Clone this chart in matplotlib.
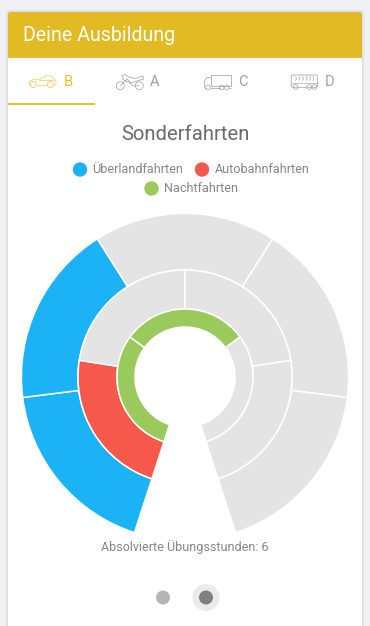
import matplotlib
matplotlib.use("Agg")
import matplotlib.pyplot as plt
from matplotlib.patches import Rectangle, FancyBboxPatch, Circle

W, H = 370, 626
plt.rcParams['font.family'] = ['Roboto', 'DejaVu Sans']

# --- data ---
title = "Sonderfahrten"
header = "Deine Ausbildung"
footer = "Absolvierte Übungsstunden: 6"
tabs = ["B", "A", "C", "D"]
legend_labels = ["Überlandfahrten", "Autobahnfahrten", "Nachtfahrten"]
ring_segments = [5, 4, 3]
ring_done = [2, 1, 2]
ring_colors = ["#1CB2F6", "#F6584C", "#9ACA5C"]
GREY = "#E4E4E4"
GAP_DEG = 36
SWEEP = 360 - GAP_DEG
CENTER_PX = (185, 377)
RADII = [(163.6, 107), (107, 68), (68, 50)]

def Y(y):
    return H - y

fig = plt.figure(figsize=(W / 100, H / 100), dpi=100, facecolor="#F0F1F5")
ax = fig.add_axes([0, 0, 1, 1])
ax.set_axis_off()

# card shadow + card
for i, a in zip((3, 2, 1), (0.015, 0.025, 0.04)):
    ax.add_patch(FancyBboxPatch((8 - i, -20), 354 + 2 * i, H - 12 + 20 + i,
                                boxstyle="round,pad=0,rounding_size=4", fc="#000000", alpha=a, ec="none", zorder=1))
ax.add_patch(Rectangle((8, 0), 354, H - 20, fc="white", ec="none", zorder=2))
ax.add_patch(FancyBboxPatch((8, Y(58)), 354, 46, boxstyle="round,pad=0,rounding_size=3",
                            fc="#E2BA24", ec="none", zorder=3))
ax.add_patch(Rectangle((8, Y(58)), 354, 10, fc="#E2BA24", ec="none", zorder=3))
ax.text(23, Y(35.5), header, color="white", fontsize=14.1, va="center", ha="left", zorder=4)

# tabs
ax.add_patch(Rectangle((8, Y(105)), 87, 2, fc="#E8C02E", ec="none", zorder=4))
tab_x = [68.5, 155, 242.5, 330]
tab_cols = ["#E8C02E", "#A0A0A0", "#A0A0A0", "#A0A0A0"]
for x, t, c in zip(tab_x, tabs, tab_cols):
    ax.text(x, Y(82), t, color=c, fontsize=10.6, ha="center", va="center", zorder=4)

def line(xs, ys, c, lw=0.55):
    ax.plot(xs, [Y(v) for v in ys], color=c, lw=lw, zorder=4, solid_capstyle="round", solid_joinstyle="round")

def wheel(x, y, r, c, lw=0.55):
    ax.add_patch(Circle((x, Y(y)), r, fc="none", ec=c, lw=lw, zorder=4))

# car
c = "#EFCF66"
line([30.3, 29, 29.5, 34, 40, 45, 51, 54.5, 56, 56, 53.5],
     [85, 84, 81, 79.5, 79, 76, 76, 79.5, 81, 84.5, 85], c)
line([36.5, 47], [85, 85], c)
line([39, 54], [79.5, 79.5], c)
wheel(33.3, 84.5, 3, c); wheel(50.3, 84.5, 3, c)
# motorcycle
c = "#A6A6A6"
wheel(120.3, 85.7, 4, c); wheel(139.3, 85.7, 4, c)
line([120.3, 127, 133, 139.3], [85.7, 79, 86, 85.7], c)
line([123, 122, 125, 129, 135, 143, 143.5, 137, 131, 125, 123],
     [79, 75.5, 74.5, 77, 78.5, 76, 79, 81, 83, 81, 79], c)
# truck
line([211, 231, 231, 211, 211], [75, 75, 85.5, 85.5, 75], c)
line([204.5, 204.5, 207, 211], [87.5, 81, 77.5, 77.5], c)
line([204.5, 206], [87.5, 87.5], c)
line([210.5, 219.5], [87.5, 87.5], c)
line([229, 231], [87.5, 87.5], c)
wheel(208, 87.5, 2.3, c); wheel(221.7, 87.5, 2.3, c); wheel(226.7, 87.5, 2.3, c)
# bus
ax.add_patch(FancyBboxPatch((291.3, Y(87.3)), 26.2, 12.3, boxstyle="round,pad=0,rounding_size=1.5",
                            fc="none", ec=c, lw=0.55, zorder=4))
line([291.5, 317.5], [82.5, 82.5], c, 0.45)
for bx in (295.5, 299, 302.5, 306, 309.5, 313):
    line([bx, bx + 1.2, bx], [76.5, 78.5, 80.5], c, 0.5)
wheel(295.5, 87, 2.4, c); wheel(309.3, 87, 2.4, c); wheel(314.3, 87, 2.4, c)

# title and legend
ax.text(185, Y(134), title, color="#6A6A6A", fontsize=14.6, ha="center", va="center", zorder=4)
leg_pos = [(80, 169.5, 92.5), (202, 169.5, 214.5), (151.5, 188.5, 164)]
for (cx, cy, tx), lab, col in zip(leg_pos, legend_labels, ring_colors):
    ax.add_patch(Circle((cx, Y(cy)), 7.2, fc=col, ec="none", zorder=4))
    ax.text(tx, Y(cy), lab, color="#868686", fontsize=9.1, ha="left", va="center", zorder=4)

# rings: one pie per ring, the gap is an invisible slice
for n, done, col, (ro, ri) in zip(ring_segments, ring_done, ring_colors, RADII):
    seg = SWEEP / n
    vals = [seg] * n + [GAP_DEG]
    cols = [col] * done + [GREY] * (n - done) + ["none"]
    wedges, _ = ax.pie(vals, colors=cols, startangle=90 + 180 - GAP_DEG / 2, counterclock=False,
                       radius=ro, center=(CENTER_PX[0], Y(CENTER_PX[1])), frame=True,
                       wedgeprops=dict(width=ro - ri, edgecolor="white", linewidth=1.1))
    wedges[-1].set_visible(False)
    for w in wedges:
        w.set_zorder(5)

ax.text(185, Y(547), footer, color="#868686", fontsize=9.0, ha="center", va="center", zorder=6)

# pager dots
ax.add_patch(Circle((206, Y(597.5)), 13.5, fc="#EBEBEB", ec="none", zorder=4))
ax.add_patch(Circle((206, Y(597.5)), 7, fc="#7F7F7F", ec="none", zorder=5))
ax.add_patch(Circle((163, Y(597.5)), 7, fc="#B5B5B5", ec="none", zorder=5))

ax.set_xlim(0, W)
ax.set_ylim(0, H)
ax.set_aspect("auto")
ax.set_axis_off()
fig.savefig("out.png", dpi=100, facecolor=fig.get_facecolor())
